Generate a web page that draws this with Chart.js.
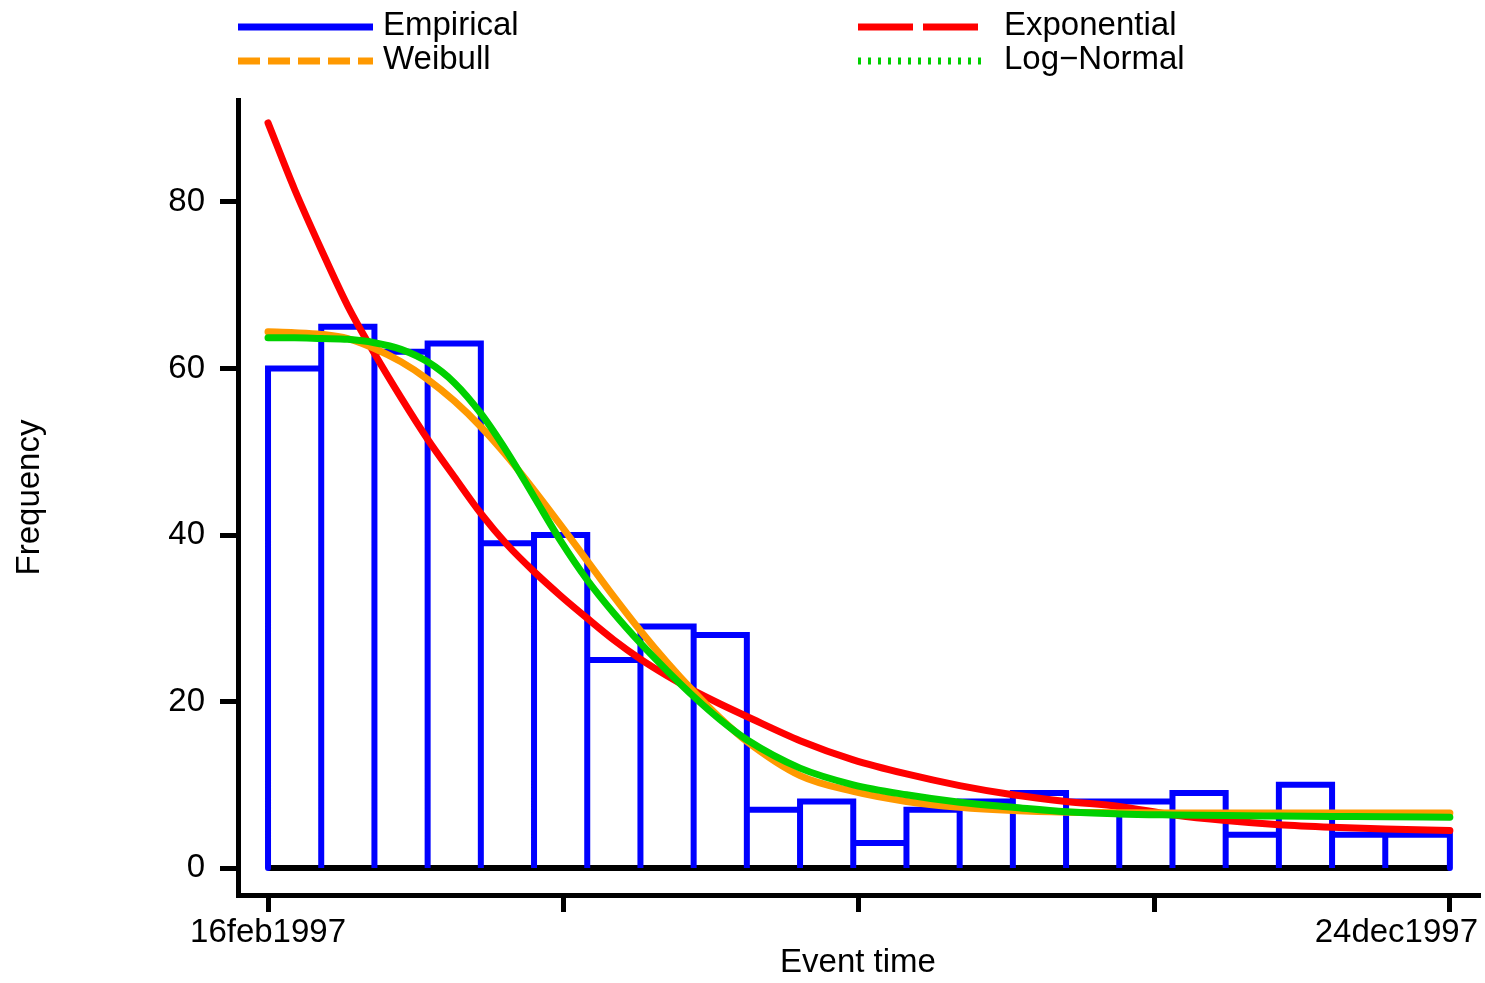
<!DOCTYPE html>
<html>
<head>
<meta charset="utf-8">
<script src="https://cdn.jsdelivr.net/npm/chart.js@4.4.0/dist/chart.umd.min.js"></script>
<style>
  html, body { margin: 0; padding: 0; background: #fff; }
  #wrap { width: 1485px; height: 983px; }
</style>
</head>
<body>
<div id="wrap"><canvas id="chart" width="1485" height="983"></canvas></div>
<script>
// histogram bins (two-week bins, the last one runs on to 24dec)
const binEdges = ['1997-02-16', '1997-03-02', '1997-03-16', '1997-03-30', '1997-04-13', '1997-04-27',
    '1997-05-11', '1997-05-25', '1997-06-08', '1997-06-22', '1997-07-06', '1997-07-20', '1997-08-03',
    '1997-08-17', '1997-08-31', '1997-09-14', '1997-09-28', '1997-10-12', '1997-10-26', '1997-11-09',
    '1997-11-23', '1997-12-07', '1997-12-24'];
const binCounts = [60, 65, 62, 63, 39, 40, 25, 29, 28, 7, 8, 3, 7, 8, 9, 8, 8, 9, 4, 10, 4, 4];

const curveDays = [0, 7, 14, 21, 28, 35, 42, 49, 56, 63, 70, 77, 84, 91, 98, 105, 112, 119, 126,
    140, 154, 168, 182, 196, 210, 224, 238, 252, 266, 280, 294, 311];
const expFit = [89.5, 81.5, 74.3, 67.5, 61.8, 56.5, 51.5, 47.0, 42.6, 38.8, 35.6, 32.7, 30.0, 27.4, 25.1,
    23.1, 21.3, 19.7, 18.2, 15.3, 13.0, 11.3, 9.9, 8.8, 8.0, 7.4, 6.4, 5.7, 5.2, 4.9, 4.7, 4.5];
const weibullFit = [64.4, 64.3, 64.1, 63.6, 62.4, 60.8, 58.7, 56.1, 53.0, 49.4, 45.4, 41.2, 36.9, 32.6, 28.5,
    24.7, 21.2, 18.0, 15.2, 11.1, 9.2, 8.0, 7.3, 6.9, 6.7, 6.65, 6.6, 6.6, 6.6, 6.6, 6.6, 6.6];
const lognormFit = [63.7, 63.7, 63.6, 63.5, 63.1, 62.3, 60.8, 58.3, 54.6, 49.9, 44.6, 39.3, 34.6, 30.6, 27.0,
    23.7, 20.6, 17.8, 15.4, 12.0, 10.0, 8.8, 7.9, 7.3, 6.75, 6.5, 6.38, 6.3, 6.25, 6.2, 6.15, 6.1];

const yTicks = [0, 20, 40, 60, 80];
const xTickLabels = ['16feb1997', '', '', '', '24dec1997'];

const FONT = "'Liberation Sans', Arial, sans-serif";
const dayOf = s => Date.UTC(+s.slice(0, 4), +s.slice(5, 7) - 1, +s.slice(8, 10)) / 864e5;
const firstDay = dayOf(binEdges[0]);
const lastDay = dayOf(binEdges[binEdges.length - 1]);

// outline of the bars: up the left edge, across the top, down the right edge
const histPts = [];
binCounts.forEach((c, i) => {
    const a = dayOf(binEdges[i]), b = dayOf(binEdges[i + 1]);
    histPts.push({x: a, y: 0}, {x: a, y: c}, {x: b, y: c}, {x: b, y: 0});
});
const curve = vals => vals.map((v, i) => ({x: firstDay + curveDays[i], y: v}));

// legend + x tick labels (last one is pulled in so it stays inside the plot)
const overlay = {
    id: 'overlay',
    afterDraw(chart) {
        const {ctx, chartArea} = chart;
        const xs = chart.scales.x;
        ctx.save();
        ctx.font = '33px ' + FONT;
        ctx.fillStyle = '#000';
        ctx.textBaseline = 'alphabetic';
        xs.ticks.forEach((t, i) => {
            const lab = xTickLabels[i];
            if (!lab) return;
            const w = ctx.measureText(lab).width;
            let left = xs.getPixelForValue(t.value) - w / 2;
            left = Math.min(left, chartArea.right - w);
            ctx.fillText(lab, left, xs.top + 47);
        });

        const keys = [
            {label: 'Empirical', color: '#0000ff', dash: [], x0: 238, x1: 373, tx: 383, y: 27},
            {label: 'Exponential', color: '#ff0000', dash: [55, 10], x0: 858, x1: 982, tx: 1004, y: 27},
            {label: 'Weibull', color: '#ff9900', dash: [22, 8], x0: 238, x1: 373, tx: 383, y: 61},
            {label: 'Log\u2212Normal', color: '#00d000', dash: [3, 7], x0: 858, x1: 982, tx: 1004, y: 61}
        ];
        keys.forEach(k => {
            ctx.beginPath();
            ctx.setLineDash(k.dash);
            ctx.lineCap = 'butt';
            ctx.lineWidth = 7;
            ctx.strokeStyle = k.color;
            ctx.moveTo(k.x0, k.y);
            ctx.lineTo(k.x1, k.y);
            ctx.stroke();
            ctx.setLineDash([]);
            ctx.fillText(k.label, k.tx, k.y + 8);
        });
        ctx.restore();
    }
};

const axisGrid = {drawOnChartArea: false, drawTicks: true, tickWidth: 5, tickColor: '#000', lineWidth: 5};

new Chart(document.getElementById('chart').getContext('2d'), {
    type: 'line',
    data: {
        datasets: [
            {label: 'zero', data: [{x: firstDay, y: 0}, {x: lastDay, y: 0}],
                borderColor: '#000', borderWidth: 6, pointRadius: 0, order: 5},
            {label: 'Empirical', data: histPts, borderColor: '#0000ff', borderWidth: 6,
                borderCapStyle: 'round', tension: 0, pointRadius: 0, order: 4},
            {label: 'Exponential', data: curve(expFit), borderColor: '#ff0000', borderWidth: 7,
                borderCapStyle: 'round', cubicInterpolationMode: 'monotone', pointRadius: 0, order: 3},
            {label: 'Weibull', data: curve(weibullFit), borderColor: '#ff9900', borderWidth: 7,
                borderCapStyle: 'round', cubicInterpolationMode: 'monotone', pointRadius: 0, order: 2},
            {label: 'Log\u2212Normal', data: curve(lognormFit), borderColor: '#00d000', borderWidth: 7,
                borderCapStyle: 'round', cubicInterpolationMode: 'monotone', pointRadius: 0, order: 1}
        ]
    },
    options: {
        responsive: false,
        animation: false,
        layout: {padding: {top: 100, right: 7, left: 0, bottom: 0}},
        plugins: {legend: {display: false}, tooltip: {enabled: false}},
        scales: {
            x: {
                type: 'linear',
                min: firstDay - 7.9,
                max: firstDay + 318.4,
                afterBuildTicks: s => {
                    const n = xTickLabels.length - 1;
                    s.ticks = xTickLabels.map((l, i) => ({value: firstDay + (lastDay - firstDay) * i / n}));
                },
                afterFit: s => { s.height = 88; s.paddingLeft = 0; s.paddingRight = 0; },
                ticks: {display: false},
                grid: Object.assign({tickLength: 17}, axisGrid),
                border: {display: true, width: 5, color: '#000'},
                title: {display: true, text: 'Event time', color: '#000',
                    font: {family: FONT, size: 33}, padding: {top: 0, bottom: 0}}
            },
            y: {
                min: -3.24,
                max: 92.25,
                afterBuildTicks: s => { s.ticks = yTicks.map(v => ({value: v})); },
                afterFit: s => { s.width = 238; s.paddingTop = 0; s.paddingBottom = 0; },
                ticks: {color: '#000', font: {family: FONT, size: 33}, padding: 15},
                grid: Object.assign({tickLength: 18}, axisGrid),
                border: {display: true, width: 5, color: '#000'},
                title: {display: true, text: 'Frequency', color: '#000',
                    font: {family: FONT, size: 33}, padding: {top: 10, bottom: 0}}
            }
        }
    },
    plugins: [overlay]
});
</script>
</body>
</html>
